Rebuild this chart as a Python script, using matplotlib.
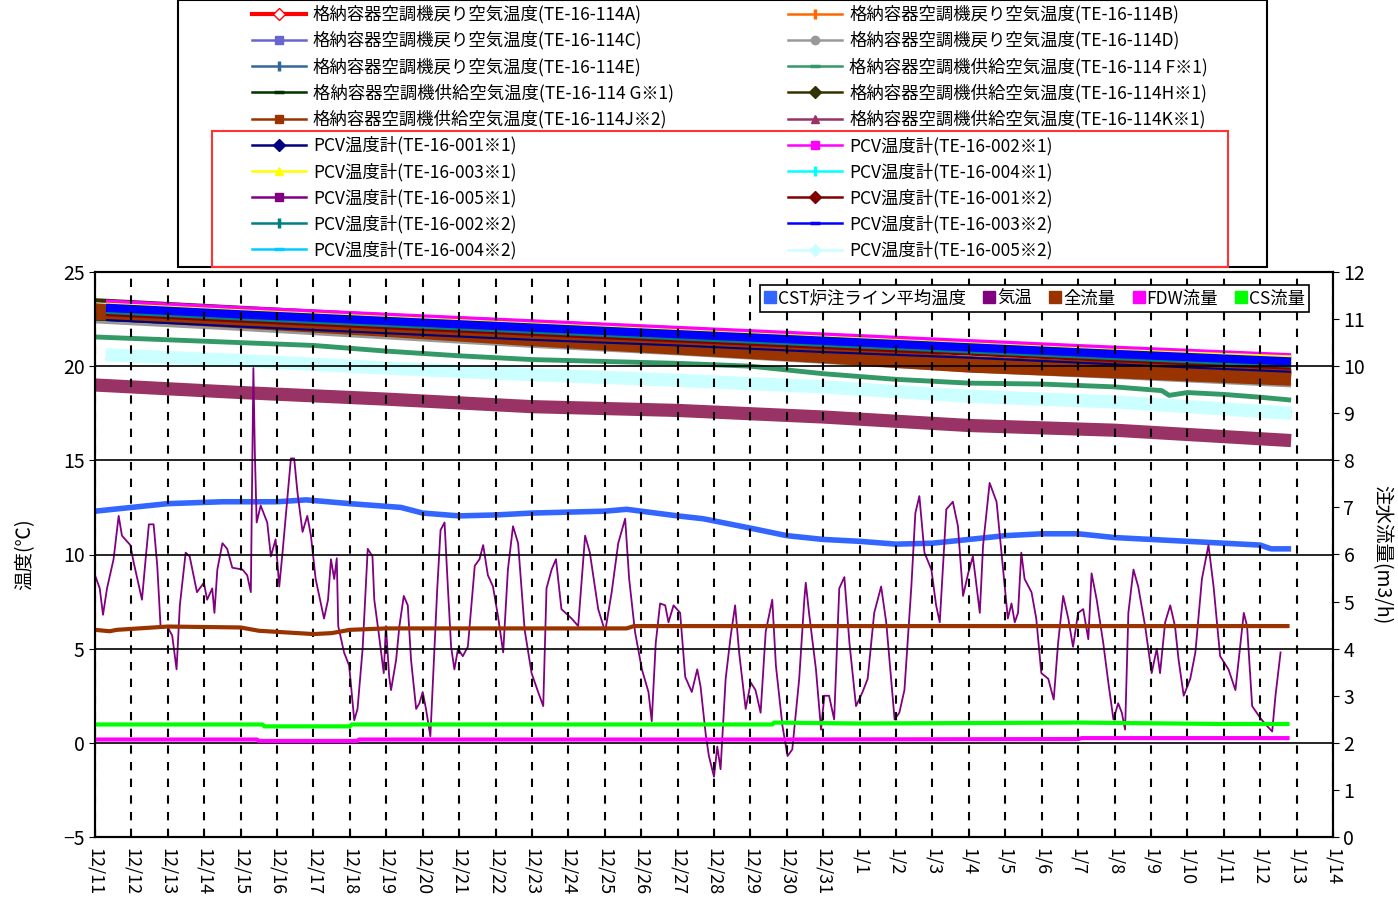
import matplotlib
matplotlib.use('Agg')
import matplotlib.pyplot as plt
from matplotlib.lines import Line2D
from matplotlib.patches import Rectangle

plt.rcParams['font.family'] = ['Noto Sans CJK JP', 'DejaVu Sans']

# x axis: days counted from 12/11 00:00
date_labels = ['12/11', '12/12', '12/13', '12/14', '12/15', '12/16', '12/17', '12/18',
               '12/19', '12/20', '12/21', '12/22', '12/23', '12/24', '12/25', '12/26',
               '12/27', '12/28', '12/29', '12/30', '12/31', '1/1', '1/2', '1/3', '1/4',
               '1/5', '1/6', '1/7', '1/8', '1/9', '1/10', '1/11', '1/12', '1/13', '1/14']

# containment air conditioner / PCV temperatures (deg C), read at these days
days_114 = [0, 4, 8, 12, 16, 20, 24, 28, 32.85]
days_pcv = [0.3, 4, 8, 12, 16, 20, 24, 28, 32.85]
days_114f = [0, 2, 4, 6, 8, 10, 12, 14, 16, 18, 20, 22, 24, 26, 28, 29.3, 29.5, 30, 31, 32, 32.85]

te_114a = [23.0, 22.65, 22.3, 21.95, 21.6, 21.25, 20.9, 20.55, 20.15]
te_114b = [22.8, 22.4, 22.0, 21.6, 21.2, 20.8, 20.4, 20.0, 19.6]
te_114c = [22.6, 22.2, 21.8, 21.4, 21.0, 20.6, 20.2, 19.85, 19.45]
te_114d = [22.4, 22.0, 21.55, 21.1, 20.7, 20.25, 19.8, 19.45, 19.0]
te_114e = [22.5, 22.15, 21.8, 21.45, 21.1, 20.75, 20.4, 20.05, 19.65]
te_114f1 = [21.55, 21.4, 21.25, 21.1, 20.8, 20.55, 20.35, 20.25, 20.15, 20.0, 19.6,
            19.3, 19.1, 19.05, 18.9, 18.7, 18.45, 18.6, 18.5, 18.35, 18.2]
te_114g1 = [22.5, 22.15, 21.8, 21.45, 21.1, 20.75, 20.4, 20.0, 19.6]
te_114h1 = [23.5, 23.1, 22.7, 22.35, 22.0, 21.6, 21.25, 20.9, 20.45]
te_114j2 = [22.9, 22.45, 22.0, 21.5, 21.05, 20.6, 20.1, 19.8, 19.4]
te_114k1 = [19.0, 18.6, 18.25, 17.85, 17.65, 17.3, 16.85, 16.6, 16.05]
te_001_1 = [22.45, 22.1, 21.75, 21.4, 21.1, 20.75, 20.45, 20.1, 19.7]
te_002_1 = [23.45, 23.1, 22.75, 22.4, 22.05, 21.7, 21.35, 21.0, 20.6]
te_003_1 = [23.3, 22.95, 22.6, 22.25, 21.9, 21.55, 21.2, 20.85, 20.5]
te_004_1 = [20.75, 20.4, 20.0, 19.65, 19.3, 18.95, 18.5, 18.15, 17.6]
te_005_1 = [20.4, 20.1, 19.75, 19.4, 19.05, 18.7, 18.3, 18.0, 17.55]
te_001_2 = [22.75, 22.4, 22.05, 21.7, 21.35, 21.0, 20.65, 20.3, 19.9]
te_002_2 = [22.9, 22.55, 22.2, 21.85, 21.5, 21.15, 20.8, 20.45, 20.05]
te_003_2 = [23.1, 22.75, 22.4, 22.05, 21.7, 21.35, 21.0, 20.65, 20.25]
te_004_2 = [20.5, 20.15, 19.8, 19.45, 19.1, 18.75, 18.3, 17.95, 17.35]
te_005_2 = [20.6, 20.3, 19.9, 19.55, 19.25, 18.9, 18.4, 18.1, 17.5]

# CST injection line average temperature (deg C)
cst_days = [0, 1, 2, 3.5, 5, 5.8, 7, 8.4, 9, 10, 11, 12, 14, 14.6, 16, 16.7, 18, 19, 20,
            21, 22, 23, 24, 25, 26, 27, 28, 29, 30, 31, 32, 32.3, 32.85]
cst_temp = [12.3, 12.5, 12.7, 12.8, 12.8, 12.9, 12.7, 12.5, 12.2, 12.05, 12.1, 12.2, 12.3,
            12.4, 12.05, 11.9, 11.4, 11.0, 10.8, 10.7, 10.55, 10.6, 10.8, 11.0, 11.1, 11.1,
            10.9, 10.8, 10.7, 10.6, 10.5, 10.3, 10.3]

# outside air temperature (deg C)
air_days = [0.0, 0.13, 0.22, 0.33, 0.51, 0.65, 0.74, 0.97, 1.06, 1.29, 1.39, 1.48, 1.61, 1.71,
            1.8, 1.98, 2.12, 2.24, 2.33, 2.49, 2.6, 2.8, 2.99, 3.08, 3.22, 3.28, 3.36, 3.5,
            3.63, 3.77, 4.05, 4.18, 4.28, 4.35, 4.39, 4.44, 4.55, 4.73, 4.83, 4.96, 5.06,
            5.15, 5.28, 5.38, 5.47, 5.56, 5.7, 5.83, 5.93, 6.06, 6.29, 6.4, 6.48, 6.57, 6.64,
            6.68, 6.84, 6.98, 7.12, 7.21, 7.35, 7.49, 7.62, 7.67, 7.8, 7.93, 7.99, 8.08, 8.13,
            8.27, 8.36, 8.48, 8.59, 8.68, 8.82, 8.91, 9.0, 9.09, 9.21, 9.28, 9.4, 9.49, 9.6,
            9.69, 9.78, 9.87, 9.97, 10.1, 10.24, 10.43, 10.56, 10.66, 10.79, 10.93, 11.07,
            11.21, 11.34, 11.48, 11.62, 11.8, 11.99, 12.17, 12.31, 12.4, 12.54, 12.66, 12.81,
            13.09, 13.27, 13.46, 13.59, 13.82, 14.01, 14.19, 14.37, 14.56, 14.67, 14.83,
            15.02, 15.2, 15.29, 15.4, 15.52, 15.66, 15.75, 15.89, 16.07, 16.21, 16.39, 16.54,
            16.63, 16.77, 16.86, 17.0, 17.09, 17.18, 17.32, 17.46, 17.58, 17.69, 17.87, 18.01,
            18.14, 18.28, 18.42, 18.6, 18.7, 18.88, 19.02, 19.15, 19.34, 19.48, 19.52, 19.61,
            19.8, 19.94, 20.03, 20.16, 20.3, 20.44, 20.58, 20.72, 20.9, 21.08, 21.22, 21.4,
            21.59, 21.73, 21.86, 21.96, 22.09, 22.23, 22.42, 22.53, 22.64, 22.78, 22.97, 23.1,
            23.2, 23.38, 23.56, 23.7, 23.84, 23.98, 24.11, 24.3, 24.39, 24.57, 24.76, 24.94,
            25.07, 25.17, 25.26, 25.35, 25.44, 25.53, 25.72, 25.85, 25.99, 26.18, 26.33,
            26.45, 26.59, 26.73, 26.86, 27.0, 27.14, 27.28, 27.37, 27.51, 27.69, 27.83, 27.97,
            28.1, 28.2, 28.29, 28.38, 28.52, 28.65, 28.84, 29.02, 29.16, 29.25, 29.39, 29.53,
            29.66, 29.76, 29.9, 30.08, 30.22, 30.4, 30.58, 30.72, 30.9, 31.13, 31.32, 31.46,
            31.55, 31.64, 31.78, 32.01, 32.14, 32.33, 32.42, 32.56]
air_temp = [8.9, 8.2, 6.8, 8.2, 9.75, 12.05, 11.0, 10.5, 9.6, 7.6, 9.75, 11.6, 11.6, 9.4,
            6.2, 6.2, 5.7, 3.9, 7.3, 10.1, 9.9, 8.0, 8.5, 7.6, 8.2, 6.9, 9.2, 10.6,
            10.3, 9.3, 9.2, 8.9, 8.0, 19.9, 15.4, 11.7, 12.6, 11.7, 9.9, 10.8, 8.3,
            10.1, 12.9, 15.1, 15.1, 13.3, 11.2, 12.05, 11.0, 8.7, 6.6, 7.6, 9.75, 8.7, 9.8,
            6.2, 4.8, 4.1, 1.2, 1.8, 5.0, 10.3, 9.9, 7.6, 5.7, 3.7, 6.2, 3.5, 2.8,
            4.4, 6.2, 7.8, 7.3, 4.4, 1.8, 2.1, 2.7, 1.8, 0.35, 3.2, 8.2, 11.3, 11.7,
            8.3, 5.1, 3.9, 5.0, 4.6, 5.1, 9.4, 9.75, 10.5, 8.9, 8.3, 6.7,
            4.8, 9.2, 11.5, 10.6, 6.0, 3.7, 2.7, 1.95, 8.2, 9.2, 9.75, 7.1,
            6.6, 6.2, 11.0, 10.1, 7.1, 5.9, 8.0, 10.6, 11.9, 8.7, 5.9,
            3.9, 2.7, 1.15, 5.3, 7.4, 7.3, 6.4, 7.3, 6.9, 3.5, 2.7, 3.9,
            3.0, 0.5, -0.7, -1.8, -0.2, -1.4, 3.4, 5.7, 7.3, 4.8, 1.8, 3.2,
            2.8, 1.6, 5.9, 7.6, 4.1, 0.9, -0.7, -0.35, 3.4, 7.6, 8.5, 6.9,
            3.9, 0.7, 2.5, 2.5, 1.24, 8.2, 8.8, 5.3, 1.95, 2.7, 3.4, 6.9,
            8.3, 6.4, 3.5, 1.24, 1.6, 2.8, 8.3, 12.2, 13.1, 10.1, 9.2, 7.3,
            6.4, 12.4, 12.8, 11.5, 7.8, 9.0, 9.9, 6.9, 10.5, 13.8, 12.8, 9.2,
            6.6, 7.4, 6.4, 6.9, 10.1, 8.7, 8.0, 6.6, 3.7, 3.4, 2.3,
            5.3, 7.8, 6.6, 5.1, 6.9, 7.1, 5.5, 9.0, 7.6, 5.3, 3.2, 1.24,
            2.1, 1.6, 0.7, 6.9, 9.2, 8.3, 6.2, 3.7, 5.0, 3.7, 6.4, 7.3,
            6.2, 4.4, 2.5, 3.4, 4.8, 8.7, 10.5, 8.3, 4.6, 3.9, 2.8, 5.3,
            6.9, 6.2, 1.95, 1.3, 1.0, 0.6, 2.5, 4.8]

# injection flows (m3/h, right axis)
total_days = [0, 0.4, 0.6, 2.0, 4.0, 4.5, 6.0, 6.5, 7.0, 8.0, 14.6, 14.8, 32.75]
total_flow = [4.40, 4.37, 4.40, 4.47, 4.45, 4.38, 4.31, 4.33, 4.40, 4.43, 4.43, 4.48, 4.48]
cs_days = [0, 4.6, 4.65, 7.0, 7.05, 18.6, 18.65, 21.0, 27.0, 31.0, 32.75]
cs_flow = [2.39, 2.39, 2.35, 2.35, 2.39, 2.39, 2.43, 2.41, 2.43, 2.40, 2.40]
fdw_days = [0, 4.45, 4.5, 7.2, 7.25, 18.6, 27.0, 27.1, 32.75]
fdw_flow = [2.07, 2.07, 2.04, 2.04, 2.07, 2.07, 2.08, 2.10, 2.10]

# label, days, values, color, plot width, legend marker
series = [
    ('格納容器空調機戻り空気温度(TE-16-114A)', days_114, te_114a, '#FF0000', 2, 'D'),
    ('格納容器空調機戻り空気温度(TE-16-114B)', days_114, te_114b, '#FF6600', 2, '|'),
    ('格納容器空調機戻り空気温度(TE-16-114C)', days_114, te_114c, '#6666CC', 2, 's'),
    ('格納容器空調機戻り空気温度(TE-16-114D)', days_114, te_114d, '#999999', 3.5, 'o'),
    ('格納容器空調機戻り空気温度(TE-16-114E)', days_114, te_114e, '#336699', 2, '|'),
    ('格納容器空調機供給空気温度(TE-16-114 F※1)', days_114f, te_114f1, '#339966', 3.5, '_'),
    ('格納容器空調機供給空気温度(TE-16-114 G※1)', days_114, te_114g1, '#003300', 2, '_'),
    ('格納容器空調機供給空気温度(TE-16-114H※1)', days_114, te_114h1, '#333300', 3, 'D'),
    ('格納容器空調機供給空気温度(TE-16-114J※2)', days_114, te_114j2, '#993300', 12, 's'),
    ('格納容器空調機供給空気温度(TE-16-114K※1)', days_114, te_114k1, '#993366', 9.5, '^'),
    ('PCV温度計(TE-16-001※1)', days_pcv, te_001_1, '#000080', 1.5, 'D'),
    ('PCV温度計(TE-16-002※1)', days_pcv, te_002_1, '#FF00FF', 2.5, 's'),
    ('PCV温度計(TE-16-003※1)', days_pcv, te_003_1, '#FFFF00', 2, '^'),
    ('PCV温度計(TE-16-004※1)', days_pcv, te_004_1, '#00FFFF', 2, '|'),
    ('PCV温度計(TE-16-005※1)', days_pcv, te_005_1, '#800080', 2, 's'),
    ('PCV温度計(TE-16-001※2)', days_pcv, te_001_2, '#800000', 2.5, 'D'),
    ('PCV温度計(TE-16-002※2)', days_pcv, te_002_2, '#008080', 3.5, '|'),
    ('PCV温度計(TE-16-003※2)', days_pcv, te_003_2, '#0000FF', 6, '_'),
    ('PCV温度計(TE-16-004※2)', days_pcv, te_004_2, '#00CCFF', 2, '_'),
    ('PCV温度計(TE-16-005※2)', days_pcv, te_005_2, '#CCFFFF', 9.5, 'D'),
]

fig = plt.figure(figsize=(13.98, 9.18), dpi=100)
ax = fig.add_axes([95 / 1398, 1 - 837 / 918, 1238 / 1398, 565 / 918])
ax2 = ax.twinx()

handles = []
for label, d, v, color, lw, mk in series:
    ax.plot(d, v, color=color, lw=lw, solid_capstyle='butt')
    if mk == 'D' and color == '#FF0000':
        h = Line2D([], [], color=color, lw=3, marker='D', ms=6, mfc='white', mec=color)
    elif mk in ('|', '_'):
        h = Line2D([], [], color=color, lw=1.8, marker=mk, ms=7, mew=2.5)
    else:
        h = Line2D([], [], color=color, lw=1.8, marker=mk, ms=6)
    handles.append((h, label))

ax.plot(cst_days, cst_temp, color='#3366FF', lw=4, solid_capstyle='butt')
ax.plot(air_days, air_temp, color='#800080', lw=1.3)

ax2.plot(total_days, total_flow, color='#993300', lw=3)
ax2.plot(cs_days, cs_flow, color='#00FF00', lw=3)
ax2.plot(fdw_days, fdw_flow, color='#FF00FF', lw=3)

ax.set_xlim(0, 34)
ax.set_ylim(-5, 25)
ax2.set_ylim(0, 12)
ax.set_xticks(range(len(date_labels)))
ax.set_xticklabels(date_labels, rotation=270, fontsize=13, ha='center', va='top')
ax.set_yticks([-5, 0, 5, 10, 15, 20, 25])
ax2.set_yticks(range(0, 13))
ax.tick_params(axis='y', labelsize=14, direction='out', length=4)
ax2.tick_params(axis='y', labelsize=14, direction='out', length=4)
ax.tick_params(axis='x', direction='in', length=5, pad=8)

ax.set_axisbelow(False)
ax.xaxis.grid(True, color='black', linestyle=(0, (4, 4)), lw=1.5)
ax.yaxis.grid(True, color='black', linestyle='-', lw=1.2)
for a in (ax, ax2):
    for s in a.spines.values():
        s.set_linewidth(1.5)
        s.set_color('black')

ax.set_ylabel('温度(℃)', fontsize=14, labelpad=20)
ax2.set_ylabel('注水流量(m3/h)', fontsize=14, rotation=270, va='bottom', labelpad=4)

# small legend inside the plot
inner = [
    Line2D([], [], color='#3366FF', marker='s', ls='none', ms=9),
    Line2D([], [], color='#800080', marker='s', ls='none', ms=9),
    Line2D([], [], color='#993300', marker='s', ls='none', ms=9),
    Line2D([], [], color='#FF00FF', marker='s', ls='none', ms=9),
    Line2D([], [], color='#00FF00', marker='s', ls='none', ms=9),
]
leg2 = ax2.legend(inner, ['CST炉注ライン平均温度', '気温', '全流量', 'FDW流量', 'CS流量'],
                  loc='upper right', bbox_to_anchor=(0.981, 0.977), ncol=5, fontsize=12.5,
                  handlelength=0.7, handletextpad=0.1, columnspacing=1.0, borderpad=0.25,
                  fancybox=False, framealpha=1, edgecolor='black', borderaxespad=0)
leg2.get_frame().set_linewidth(1.2)

# big legend above the plot, filled row by row
col1 = handles[0::2]
col2 = handles[1::2]
ordered = col1 + col2
fig.add_artist(Rectangle((178 / 1398, 1 - 267 / 918), 1089 / 1398, 267 / 918,
                         transform=fig.transFigure, fill=False, edgecolor='black', lw=1.5))
fig.add_artist(Rectangle((212 / 1398, 1 - 267 / 918), 1016 / 1398, 136 / 918,
                         transform=fig.transFigure, fill=False, edgecolor='#FF3333', lw=1.5))
fig.legend([h for h, _ in ordered], [l for _, l in ordered], loc='upper left',
           bbox_to_anchor=(247 / 1398, 1.0, 966 / 1398, 0), mode='expand', ncol=2,
           frameon=False, fontsize=12.5, handlelength=3.1, handletextpad=0.4,
           labelspacing=0.44, borderpad=0.3, borderaxespad=0)

fig.savefig('out.png', dpi=100)
